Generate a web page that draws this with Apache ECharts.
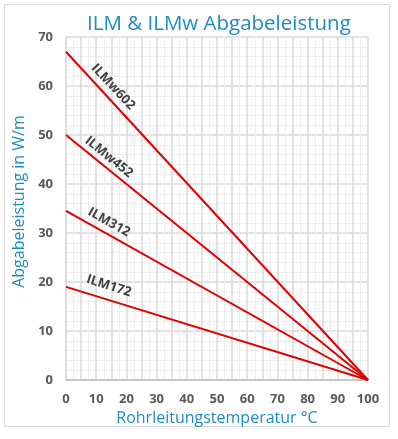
<!DOCTYPE html>
<html>
<head>
<meta charset="utf-8">
<script src="https://cdn.jsdelivr.net/npm/echarts@6/dist/echarts.min.js"></script>
<style>
html, body { margin: 0; padding: 0; background: #fff; }
#chart { width: 398px; height: 439px; }
</style>
</head>
<body>
<div id="chart"></div>
<script>
// temperatures (x) and output W/m (y) for each product line
var temps = [0, 100];
var names = ['ILMw602', 'ILMw452', 'ILM312', 'ILM172'];
var ilmw602 = [67, 0];
var ilmw452 = [50, 0];
var ilm312 = [34.5, 0];
var ilm172 = [19, 0];
var yTicks = [0, 10, 20, 30, 40, 50, 60, 70];
var xTicks = [0, 10, 20, 30, 40, 50, 60, 70, 80, 90, 100];

var values = [ilmw602, ilmw452, ilm312, ilm172];
// where the rotated name sits, in data units, and its angle
var labelAt = [[15.6, 59.8, -47], [14.2, 45.5, -39], [14.2, 32.2, -29], [14.2, 19.2, -18]];

var ec = echarts.init(document.getElementById('chart'));

var series = values.map(function (v, i) {
    return {
        name: names[i],
        type: 'line',
        symbol: 'none',
        lineStyle: { color: '#E00000', width: 2 },
        data: temps.map(function (t, j) { return [t, v[j]]; }),
        markPoint: {
            symbol: 'circle',
            symbolSize: 0,
            label: {
                show: true,
                formatter: names[i],
                rotate: labelAt[i][2],
                color: '#404040',
                fontWeight: 'bold',
                fontSize: 13,
                fontFamily: 'Open Sans'
            },
            data: [{ coord: [labelAt[i][0], labelAt[i][1]] }]
        }
    };
});

option = {
    backgroundColor: '#fff',
    animation: false,
    title: {
        text: 'ILM & ILMw Abgabeleistung',
        left: 82,
        top: 9,
        textStyle: { color: '#1E8BC3', fontSize: 20.5, fontWeight: 'normal', fontFamily: 'Open Sans' }
    },
    graphic: [{
        type: 'rect',
        shape: { x: 4.5, y: 4.5, width: 385, height: 422 },
        style: { fill: 'none', stroke: '#D9D9D9', lineWidth: 1 },
        silent: true
    }],
    grid: { left: 66, right: 30, top: 37, bottom: 59 },
    xAxis: {
        type: 'value',
        min: 0,
        max: 100,
        interval: 5,
        name: 'Rohrleitungstemperatur °C',
        nameLocation: 'middle',
        nameGap: 28,
        nameTextStyle: { color: '#1E8BC3', fontSize: 16, fontFamily: 'Open Sans' },
        axisLine: { lineStyle: { color: '#BFBFBF', width: 1.5 } },
        axisTick: { show: false },
        axisLabel: {
            margin: 13,
            color: '#595959',
            fontWeight: 'bold',
            fontSize: 13,
            fontFamily: 'Open Sans',
            formatter: function (v) { return xTicks.indexOf(v) >= 0 ? v : ''; }
        },
        splitLine: { show: true, lineStyle: { color: '#D9D9D9', width: 1.5 } },
        minorTick: { show: false, splitNumber: 2 },
        minorSplitLine: { show: true, lineStyle: { color: '#EEEEEE', width: 1 } }
    },
    yAxis: {
        type: 'value',
        min: 0,
        max: 70,
        interval: 10,
        name: 'Abgabeleistung in W/m',
        nameLocation: 'middle',
        nameGap: 33,
        nameTextStyle: { color: '#1E8BC3', fontSize: 16, fontFamily: 'Open Sans', padding: [0, 0, 0, 14] },
        axisLine: { show: true, lineStyle: { color: '#D9D9D9' } },
        axisTick: { show: false },
        axisLabel: {
            margin: 13,
            color: '#595959',
            fontWeight: 'bold',
            fontSize: 13,
            fontFamily: 'Open Sans',
            formatter: function (v) { return yTicks.indexOf(v) >= 0 ? v : ''; }
        },
        splitLine: { show: true, lineStyle: { color: '#D9D9D9', width: 1.5 } },
        minorTick: { show: false, splitNumber: 5 },
        minorSplitLine: { show: true, lineStyle: { color: '#EEEEEE', width: 1 } }
    },
    series: series
};
ec.setOption(option);
</script>
</body>
</html>
